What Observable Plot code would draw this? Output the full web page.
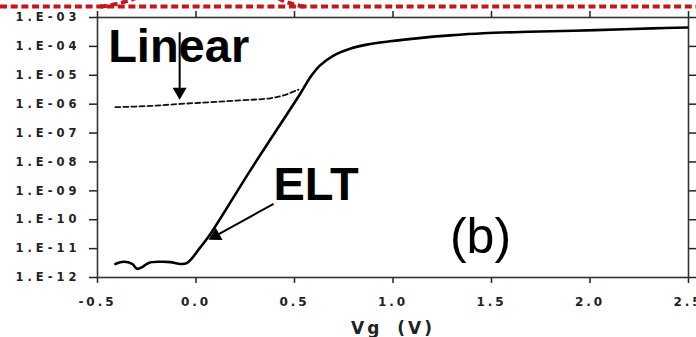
<!DOCTYPE html>
<html>
<head>
<meta charset="utf-8">
<script src="https://cdn.jsdelivr.net/npm/d3@7"></script>
<script src="https://cdn.jsdelivr.net/npm/@observablehq/plot@0.6"></script>
<style>
  html, body { margin: 0; padding: 0; background: #fff; }
  #chart { width: 696px; height: 337px; overflow: hidden; }
  #chart svg { overflow: visible; display: block; }
  g[aria-label="y-axis tick label"], g[aria-label="x-axis tick label"] {
    font-family: "DejaVu Sans", sans-serif; font-weight: bold; fill: #222;
  }
  g[aria-label="y-axis tick label"] { font-size: 11.5px; letter-spacing: 4px; }
  g[aria-label="x-axis tick label"] { font-size: 12px; letter-spacing: 3px; }
</style>
</head>
<body>
<div id="chart"></div>
<script>
// ELT curve: gate voltage (V) and drain current (A)
const vgElt = [-0.409,-0.367,-0.324,-0.299,-0.273,-0.240,-0.181,-0.130,-0.079,-0.045,
               0.022,0.073,0.275,0.529,0.580,0.630,0.698,0.782,0.867,0.985,
               1.120,1.289,1.458,1.691,1.860,2.029,2.316,2.494];
const idElt = [2.95e-12,3.5e-12,2.95e-12,2.0e-12,2.3e-12,3.2e-12,3.5e-12,3.4e-12,2.95e-12,3.2e-12,
               1.1e-11,3.2e-11,5.0e-9,2.3e-6,8.5e-6,2.2e-5,4.8e-5,8.3e-5,1.15e-4,1.5e-4,
               1.9e-4,2.4e-4,2.85e-4,3.2e-4,3.4e-4,3.65e-4,4.2e-4,4.5e-4];
// Linear transistor curve (dashed)
const vgLin = [-0.409,-0.231,-0.079,0.225,0.377,0.444,0.520];
const idLin = [7.85e-7,8.7e-7,1.02e-6,1.35e-6,1.6e-6,2.0e-6,3.2e-6];

// Axis ticks
const xTicks = [-0.5, 0.0, 0.5, 1.0, 1.5, 2.0, 2.5];
const xTickLabels = ["-0.5","0.0","0.5","1.0","1.5","2.0","2.5"];
const yTicks = [1e-12,1e-11,1e-10,1e-9,1e-8,1e-7,1e-6,1e-5,1e-4,1e-3];
const yTickLabels = ["1.E-12","1.E-11","1.E-10","1.E-09","1.E-08","1.E-07","1.E-06","1.E-05","1.E-04","1.E-03"];
const xLabel = "Vg (V)";

// Annotations (data coordinates)
const boldNotes = ["Linear", "ELT"];
const boldNoteVg = [-0.446, 0.393];
const boldNoteId = [2.84e-5, 4.63e-10];
const panelNote = ["(b)"];
const panelNoteVg = [1.289];
const panelNoteId = [6.9e-12];
const arrowFromVg = [-0.083, 0.3936];
const arrowFromId = [3.1e-4, 3.56e-10];
const arrowToVg = [-0.083, 0.0996];
const arrowToId = [2.7e-6, 2.75e-11];
const arrowAngle = [180, 241];

const elt = vgElt.map((v, i) => ({vg: v, id: idElt[i]}));
const lin = vgLin.map((v, i) => ({vg: v, id: idLin[i]}));
const notes = boldNotes.map((t, i) => ({t, vg: boldNoteVg[i], id: boldNoteId[i]}));
const panel = panelNote.map((t, i) => ({t, vg: panelNoteVg[i], id: panelNoteId[i]}));
const arrows = arrowFromVg.map((v, i) => ({x1: v, y1: arrowFromId[i], x2: arrowToVg[i], y2: arrowToId[i], r: arrowAngle[i]}));

const fmtX = d => xTickLabels[xTicks.findIndex(t => Math.abs(t - d) < 1e-9)];
const fmtY = d => yTickLabels[yTicks.findIndex(t => Math.abs(Math.log10(t) - Math.log10(d)) < 1e-6)];

const chart = Plot.plot({
  width: 696,
  height: 337,
  marginLeft: 97,
  marginRight: 8,
  marginTop: 17,
  marginBottom: 60,
  style: {fontFamily: "Liberation Sans, Arial, sans-serif", background: "#fff", color: "#222"},
  x: {domain: [-0.5, 2.5], label: null},
  y: {type: "log", domain: [1e-12, 1e-3], label: null},
  marks: [
    Plot.axisY({anchor: "left", ticks: yTicks, tickFormat: fmtY, tickSize: 8, tickPadding: 9, label: null, strokeWidth: 1.5}),
    Plot.axisY({anchor: "right", ticks: yTicks, tickFormat: () => "", tickSize: 8, label: null, strokeWidth: 1.5}),
    Plot.axisX({anchor: "bottom", ticks: xTicks, tickFormat: fmtX, tickSize: 6, tickPadding: 14, label: null, strokeWidth: 1.5}),
    Plot.axisX({anchor: "top", ticks: xTicks, tickFormat: () => "", tickSize: 7, label: null, strokeWidth: 1.5}),
    Plot.frame({stroke: "#333", strokeWidth: 1.6}),
    Plot.line(lin, {x: "vg", y: "id", stroke: "#111", strokeWidth: 1.8, strokeDasharray: "5,3", curve: "catmull-rom"}),
    Plot.line(elt, {x: "vg", y: "id", stroke: "#000", strokeWidth: 2.6, curve: "catmull-rom"}),
    Plot.link(arrows, {x1: "x1", y1: "y1", x2: "x2", y2: "y2", stroke: "#000", strokeWidth: 2}),
    Plot.dot(arrows, {x: "x2", y: "y2", symbol: "triangle", r: 5.2, fill: "#000", stroke: "none", rotate: "r"}),
    Plot.text(notes, {x: "vg", y: "id", text: "t", fontSize: 47, fontWeight: "bold", fontFamily: "Liberation Sans, Arial, sans-serif", fill: "#000", textAnchor: "start", lineAnchor: "bottom"}),
    Plot.text(panel, {x: "vg", y: "id", text: "t", fontSize: 50, fontFamily: "Liberation Sans, Arial, sans-serif", fill: "#000", textAnchor: "start", lineAnchor: "bottom"}),
    Plot.text([xLabel], {frameAnchor: "bottom", dy: 56, lineAnchor: "bottom", fontSize: 17, fontWeight: "bold", fontFamily: "DejaVu Sans, sans-serif", fill: "#222"})
  ]
});

document.getElementById("chart").appendChild(chart);

const svg = d3.select(chart);
// Wider letter spacing on the axis title, as in the scanned figure
svg.selectAll("text").filter(function() { return this.textContent === xLabel; })
  .style("letter-spacing", "3px").style("word-spacing", "6px");

// Decorative red dashed slide border at the top
const deco = svg.append("g").attr("fill", "none").attr("stroke", "#c4161c").attr("stroke-width", 4).attr("stroke-dasharray", "7,3.7");
deco.append("path").attr("d", "M0,6.5 H696");
deco.append("path").attr("d", "M100,6.5 Q118,5 136,-2");
deco.append("path").attr("d", "M278,-2 Q288,4 304,6.5");
</script>
</body>
</html>
